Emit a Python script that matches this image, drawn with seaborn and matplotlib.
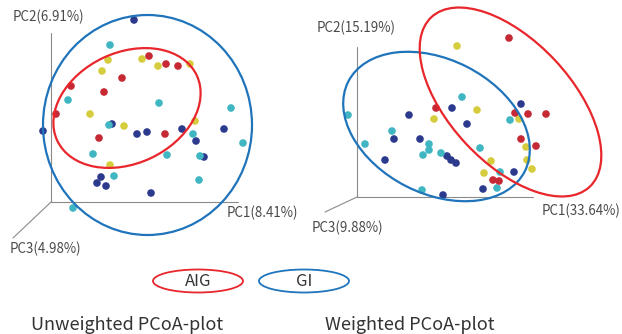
import numpy as np
import pandas as pd
import matplotlib.pyplot as plt
import seaborn as sns
from matplotlib.patches import Ellipse

sns.set_theme(style="white")
plt.rcParams['font.family'] = ['Noto Sans CJK JP', 'DejaVu Sans']

# point positions (projected PCoA, pixel-like units)
left_navy_x = [134, 43, 112, 137, 147, 182, 224, 196, 204, 101, 97, 106, 151]
left_navy_y = [20, 131, 124, 134, 132, 129, 129, 141, 157, 177, 183, 186, 193]
left_cyan_x = [110, 68, 159, 231, 109, 193, 243, 93, 167, 200, 114, 199, 73]
left_cyan_y = [45, 100, 103, 108, 125, 134, 143, 154, 155, 156, 176, 180, 208]
left_yellow_x = [108, 142, 158, 190, 102, 90, 124, 195, 110]
left_yellow_y = [60, 59, 66, 64, 71, 114, 126, 121, 165]
left_red_x = [149, 166, 178, 122, 71, 104, 56, 99, 165]
left_red_y = [56, 64, 66, 78, 86, 92, 114, 138, 134]

right_navy_x = [452, 409, 467, 521, 394, 420, 447, 451, 456, 385, 514, 483, 443]
right_navy_y = [108, 115, 124, 104, 139, 139, 156, 160, 163, 160, 172, 189, 195]
right_cyan_x = [348, 462, 510, 392, 365, 429, 429, 423, 441, 480, 500, 497, 422]
right_cyan_y = [115, 97, 120, 131, 144, 144, 150, 155, 153, 148, 172, 188, 190]
right_yellow_x = [457, 477, 519, 434, 526, 491, 527, 532, 484]
right_yellow_y = [46, 110, 119, 119, 147, 161, 160, 169, 173]
right_red_x = [509, 436, 515, 528, 546, 521, 536, 493, 499]
right_red_y = [38, 108, 113, 114, 114, 139, 146, 180, 181]

groups = ['navy', 'cyan', 'yellow', 'red']
palette = {'navy': '#2b3a8c', 'cyan': '#3fb6c2', 'yellow': '#d6cd3e', 'red': '#c62834'}

# ellipses: centre x, centre y, width, height, angle
left_ellipses = [(127, 108, 154, 111, -25, '#e8262b'),
                 (147.5, 125, 209, 220, 0, '#1f74bb')]
right_ellipses = [(436.5, 126.5, 198, 134, 27, '#1f74bb'),
                  (510.5, 102, 232, 122, 47, '#e8262b')]

axis_labels_left = ['PC2(6.91%)', 'PC1(8.41%)', 'PC3(4.98%)']
axis_labels_right = ['PC2(15.19%)', 'PC1(33.64%)', 'PC3(9.88%)']
legend_labels = ['AIG', 'GI']
titles = ['Unweighted PCoA-plot', 'Weighted PCoA-plot']

rows = []
for name, xs, ys in [('navy', left_navy_x, left_navy_y), ('cyan', left_cyan_x, left_cyan_y),
                     ('yellow', left_yellow_x, left_yellow_y), ('red', left_red_x, left_red_y),
                     ('navy', right_navy_x, right_navy_y), ('cyan', right_cyan_x, right_cyan_y),
                     ('yellow', right_yellow_x, right_yellow_y), ('red', right_red_x, right_red_y)]:
    for x, y in zip(xs, ys):
        rows.append({'x': x, 'y': y, 'group': name})
df = pd.DataFrame(rows)

fig = plt.figure(figsize=(6.22, 3.34), dpi=100)
ax = fig.add_axes([0, 0, 1, 1])
ax.set_xlim(0, 622)
ax.set_ylim(334, 0)
ax.axis('off')

# pseudo 3d axes
axc = '#8a8a8a'
ax.plot([51, 51], [33, 202], color=axc, lw=0.8)
ax.plot([51, 238], [202, 202], color=axc, lw=0.8)
ax.plot([51, 13], [202, 238], color=axc, lw=0.8)
ax.plot([357, 357], [47, 197], color=axc, lw=0.8)
ax.plot([357, 533], [197, 197], color=axc, lw=0.8)
ax.plot([357, 325], [197, 212], color=axc, lw=0.8)

sns.scatterplot(data=df, x='x', y='y', hue='group', palette=palette, s=30,
                edgecolor='none', legend=False, ax=ax, zorder=3)

for cx, cy, w, h, ang, col in left_ellipses + right_ellipses:
    ax.add_patch(Ellipse((cx, cy), w, h, angle=ang, fill=False, ec=col, lw=1.6, zorder=4))

tc = '#4a4a4a'
fs = 9.6
ax.text(13, 17, axis_labels_left[0], fontsize=fs, color=tc, va='center', ha='left')
ax.text(227, 213, axis_labels_left[1], fontsize=fs, color=tc, va='center', ha='left')
ax.text(10, 249, axis_labels_left[2], fontsize=fs, color=tc, va='center', ha='left')
ax.text(317, 28, axis_labels_right[0], fontsize=fs, color=tc, va='center', ha='left')
ax.text(542, 211, axis_labels_right[1], fontsize=fs, color=tc, va='center', ha='left')
ax.text(312, 228, axis_labels_right[2], fontsize=fs, color=tc, va='center', ha='left')

# legend
for lx, lab, col in zip([198, 304], legend_labels, ['#e8262b', '#1f74bb']):
    ax.add_patch(Ellipse((lx, 281), 90, 23, fill=False, ec=col, lw=1.3))
    ax.text(lx, 281, lab, fontsize=12, color='#333333', ha='center', va='center')

ax.text(127, 325, titles[0], fontsize=13, color='#333333', ha='center', va='center')
ax.text(410, 325, titles[1], fontsize=13, color='#333333', ha='center', va='center')

fig.savefig('out.png', dpi=100)
